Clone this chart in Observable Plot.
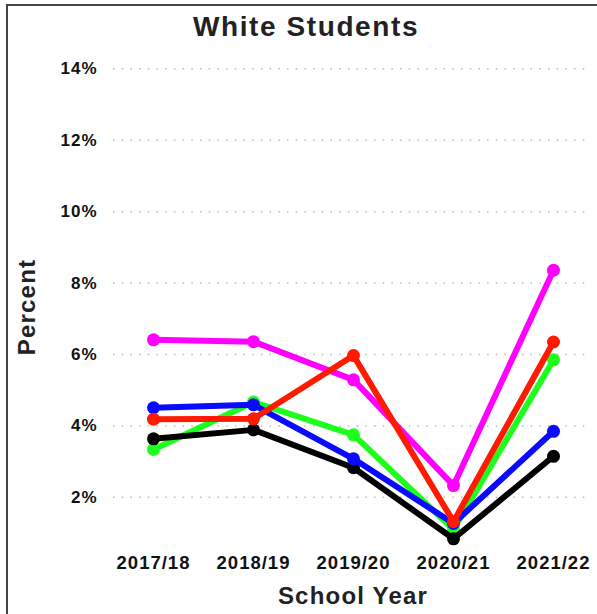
<!DOCTYPE html>
<html>
<head>
<meta charset="utf-8">
<script src="https://cdn.jsdelivr.net/npm/d3@7"></script>
<script src="https://cdn.jsdelivr.net/npm/@observablehq/plot@0.6"></script>
<style>
  html, body { margin: 0; padding: 0; background: #fff; }
  body { width: 597px; height: 614px; overflow: hidden; position: relative; font-family: "Liberation Sans", Arial, sans-serif; }
  #frame { position: absolute; left: 6px; top: 4px; width: 700px; height: 700px; border-top: 2px solid #454545; border-left: 2px solid #454545; }
  #chart { position: absolute; left: 0; top: 0; }
  .lbl { position: absolute; font-weight: bold; color: #222; white-space: nowrap; line-height: 1; }
  #title { left: 0; width: 612px; top: 13px; text-align: center; font-size: 28px; letter-spacing: 1.6px; }
  #xlab { left: 0; width: 706px; top: 584px; text-align: center; font-size: 24px; letter-spacing: 1.2px; }
  #ylab { left: 27px; top: 307px; font-size: 24px; letter-spacing: 1.2px; transform: translate(-50%, -50%) rotate(-90deg); }
</style>
</head>
<body>
<div id="frame"></div>
<div id="chart"></div>
<div class="lbl" id="title">White Students</div>
<div class="lbl" id="xlab">School Year</div>
<div class="lbl" id="ylab">Percent</div>
<script>
const years = ["2017/18", "2018/19", "2019/20", "2020/21", "2021/22"];
const yTicks = [2, 4, 6, 8, 10, 12, 14];
const seriesNames = ["green", "black", "blue", "magenta", "red"];
const seriesColors = ["#1cff1c", "#000000", "#0a0aff", "#ff00ff", "#ff1a00"];
const greenValues   = [3.34, 4.67, 3.75, 1.10, 5.85];
const blackValues   = [3.64, 3.89, 2.83, 0.84, 3.15];
const blueValues    = [4.51, 4.59, 3.08, 1.27, 3.85];
const magentaValues = [6.41, 6.36, 5.29, 2.33, 8.36];
const redValues     = [4.19, 4.20, 5.97, 1.32, 6.35];

const valuesBySeries = [greenValues, blackValues, blueValues, magentaValues, redValues];
const data = [];
seriesNames.forEach((s, i) => {
  years.forEach((y, j) => data.push({series: s, year: y, value: valuesBySeries[i][j]}));
});

const chart = Plot.plot({
  width: 597,
  height: 614,
  marginLeft: 113,
  marginRight: 9,
  marginTop: 60,
  marginBottom: 64,
  style: {fontFamily: "'Liberation Sans', Arial, sans-serif", background: "transparent", color: "#111"},
  x: {type: "point", domain: years, range: [153, 553], padding: 0},
  y: {domain: [0, 14], range: [568.3, 68.3]},
  marks: [
    Plot.gridY(yTicks, {stroke: "#bbb", strokeOpacity: 1, strokeWidth: 1.5, strokeDasharray: "1.5,7.2"}),
    Plot.axisY(yTicks, {tickSize: 0, tickPadding: 16, tickFormat: d => d + "%", fontSize: 17, fontWeight: "bold", label: null}),
    Plot.axisX(years, {tickSize: 0, tickPadding: 5, fontSize: 18.5, fontWeight: "bold", label: null}),
    ...seriesNames.map((s, i) => [
      Plot.line(data.filter(d => d.series === s), {x: "year", y: "value", stroke: seriesColors[i], strokeWidth: 6, strokeLinejoin: "round", strokeLinecap: "round"}),
      Plot.dot(data.filter(d => d.series === s), {x: "year", y: "value", fill: seriesColors[i], r: 6.5})
    ]).flat()
  ]
});
chart.querySelectorAll("g[aria-label='y-axis tick label'] text, g[aria-label='x-axis tick label'] text").forEach(t => t.style.letterSpacing = "1px");
document.getElementById("chart").appendChild(chart);
</script>
</body>
</html>
